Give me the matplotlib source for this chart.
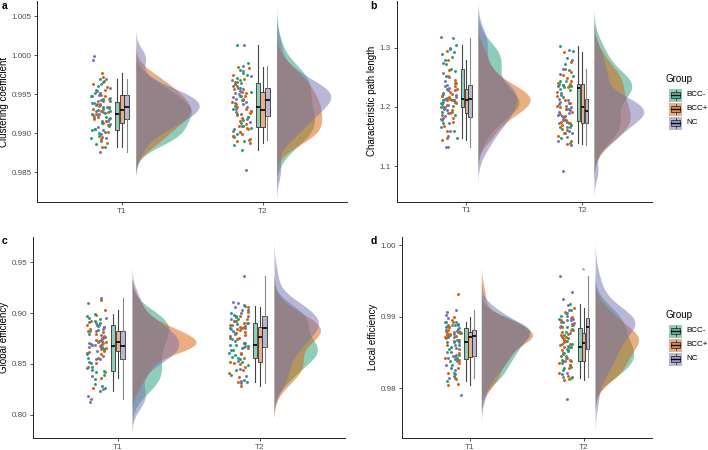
import numpy as np
import matplotlib
matplotlib.use('Agg')
import matplotlib.pyplot as plt
from matplotlib.patches import Rectangle
from matplotlib.colors import to_rgba

plt.rcParams['font.family'] = ['Liberation Sans', 'DejaVu Sans']

# ---------------- data ----------------
groups = ['BCC-', 'BCC+', 'NC']
times = ['T1', 'T2']
colors = ['#1B9E77', '#D95F02', '#7570B3']

# Clustering coefficient
cc_t1_bccm = [0.9883, 0.9886, 0.9890, 0.9894, 0.9897, 0.9900, 0.9902, 0.9904, 0.9905, 0.9909,
              0.9913, 0.9916, 0.9919, 0.9921, 0.9924, 0.9926, 0.9928, 0.9930, 0.9932, 0.9934,
              0.9936, 0.9939, 0.9941, 0.9944, 0.9947, 0.9951, 0.9955, 0.9960, 0.9965, 0.9969]
cc_t1_bccp = [0.9883, 0.9888, 0.9893, 0.9895, 0.9901, 0.9906, 0.9910, 0.9913, 0.9915, 0.9918,
              0.9921, 0.9923, 0.9925, 0.9927, 0.9929, 0.9931, 0.9933, 0.9936, 0.9938, 0.9941,
              0.9944, 0.9947, 0.9949, 0.9952, 0.9955, 0.9959, 0.9963, 0.9967, 0.9972, 0.9977]
cc_t1_nc = [0.9876, 0.9894, 0.9899, 0.9904, 0.9908, 0.9912, 0.9915, 0.9918, 0.9921, 0.9923,
            0.9925, 0.9927, 0.9929, 0.9931, 0.9933, 0.9935, 0.9937, 0.9939, 0.9941, 0.9943,
            0.9945, 0.9947, 0.9949, 0.9951, 0.9954, 0.9958, 0.9963, 0.9969, 0.9994, 0.9999]
cc_t2_bccm = [0.9879, 0.9885, 0.9890, 0.9895, 0.9899, 0.9902, 0.9905, 0.9907, 0.9909, 0.9913,
              0.9917, 0.9921, 0.9925, 0.9928, 0.9931, 0.9935, 0.9939, 0.9943, 0.9948, 0.9953,
              0.9958, 0.9963, 0.9965, 0.9968, 0.9971, 0.9974, 0.9977, 0.9981, 0.9990, 1.0013]
cc_t2_bccp = [0.9888, 0.9890, 0.9893, 0.9896, 0.9899, 0.9902, 0.9905, 0.9907, 0.9909, 0.9912,
              0.9916, 0.9920, 0.9923, 0.9926, 0.9929, 0.9931, 0.9934, 0.9937, 0.9940, 0.9944,
              0.9948, 0.9951, 0.9953, 0.9957, 0.9961, 0.9966, 0.9970, 0.9975, 0.9983, 0.9985]
cc_t2_nc = [0.9853, 0.9891, 0.9897, 0.9903, 0.9909, 0.9914, 0.9918, 0.9921, 0.9924, 0.9927,
            0.9931, 0.9934, 0.9937, 0.9940, 0.9942, 0.9944, 0.9946, 0.9948, 0.9950, 0.9952,
            0.9954, 0.9956, 0.9958, 0.9961, 0.9964, 0.9968, 0.9973, 0.9979, 0.9986, 1.0013]

# Characteristic path length
cpl_t1_bccm = [1.147, 1.160, 1.172, 1.180, 1.186, 1.192, 1.197, 1.200, 1.202, 1.205,
               1.207, 1.209, 1.211, 1.212, 1.213, 1.215, 1.218, 1.222, 1.230, 1.240,
               1.252, 1.261, 1.264, 1.272, 1.280, 1.285, 1.289, 1.292, 1.298, 1.304]
cpl_t1_bccp = [1.144, 1.148, 1.160, 1.168, 1.175, 1.181, 1.186, 1.189, 1.191, 1.195,
               1.199, 1.203, 1.206, 1.209, 1.211, 1.212, 1.214, 1.216, 1.219, 1.222,
               1.226, 1.229, 1.231, 1.235, 1.240, 1.246, 1.253, 1.262, 1.279, 1.295]
cpl_t1_nc = [1.132, 1.133, 1.150, 1.160, 1.166, 1.172, 1.177, 1.182, 1.184, 1.189,
             1.194, 1.199, 1.204, 1.208, 1.211, 1.214, 1.217, 1.220, 1.224, 1.228,
             1.232, 1.235, 1.237, 1.243, 1.250, 1.258, 1.275, 1.299, 1.316, 1.318]
cpl_t2_bccm = [1.139, 1.148, 1.156, 1.162, 1.166, 1.170, 1.173, 1.175, 1.177, 1.185,
               1.196, 1.207, 1.217, 1.224, 1.229, 1.234, 1.235, 1.236, 1.236, 1.237,
               1.237, 1.238, 1.239, 1.244, 1.252, 1.262, 1.272, 1.283, 1.295, 1.303]
cpl_t2_bccp = [1.138, 1.143, 1.150, 1.156, 1.161, 1.166, 1.170, 1.172, 1.174, 1.178,
               1.183, 1.188, 1.192, 1.196, 1.199, 1.201, 1.206, 1.212, 1.219, 1.226,
               1.233, 1.238, 1.240, 1.244, 1.249, 1.254, 1.259, 1.264, 1.276, 1.293]
cpl_t2_nc = [1.092, 1.136, 1.142, 1.149, 1.155, 1.160, 1.166, 1.172, 1.174, 1.177,
             1.180, 1.184, 1.187, 1.190, 1.192, 1.194, 1.196, 1.199, 1.202, 1.205,
             1.208, 1.212, 1.214, 1.220, 1.230, 1.243, 1.255, 1.264, 1.279, 1.297]

# Global efficiency
ge_t1_bccm = [0.8233, 0.8262, 0.8278, 0.8305, 0.8350, 0.8395, 0.8420, 0.8432, 0.8440, 0.8468,
              0.8510, 0.8560, 0.8610, 0.8645, 0.8668, 0.8690, 0.8712, 0.8738, 0.8765, 0.8795,
              0.8830, 0.8876, 0.8885, 0.8900, 0.8912, 0.8925, 0.8940, 0.8955, 0.8970, 0.8988]
ge_t1_bccp = [0.8259, 0.8364, 0.8420, 0.8470, 0.8510, 0.8560, 0.8600, 0.8622, 0.8628, 0.8645,
              0.8660, 0.8675, 0.8690, 0.8700, 0.8708, 0.8716, 0.8728, 0.8740, 0.8755, 0.8770,
              0.8790, 0.8815, 0.8823, 0.8840, 0.8860, 0.8880, 0.8920, 0.8980, 0.9027, 0.9130]
ge_t1_nc = [0.8121, 0.8154, 0.8180, 0.8250, 0.8380, 0.8460, 0.8520, 0.8545, 0.8550, 0.8575,
            0.8600, 0.8625, 0.8645, 0.8662, 0.8675, 0.8683, 0.8695, 0.8710, 0.8730, 0.8755,
            0.8785, 0.8820, 0.8826, 0.8845, 0.8865, 0.8880, 0.8900, 0.8950, 0.9095, 0.9152]
ge_t2_bccm = [0.8325, 0.8345, 0.8390, 0.8440, 0.8490, 0.8520, 0.8545, 0.8558, 0.8565, 0.8585,
              0.8610, 0.8635, 0.8655, 0.8672, 0.8682, 0.8690, 0.8705, 0.8730, 0.8760, 0.8800,
              0.8850, 0.8893, 0.8900, 0.8925, 0.8945, 0.8965, 0.8985, 0.9005, 0.9030, 0.9070]
ge_t2_bccp = [0.8279, 0.8320, 0.8370, 0.8410, 0.8440, 0.8470, 0.8500, 0.8512, 0.8522, 0.8560,
              0.8610, 0.8660, 0.8710, 0.8745, 0.8760, 0.8770, 0.8785, 0.8800, 0.8815, 0.8830,
              0.8848, 0.8860, 0.8866, 0.8880, 0.8900, 0.8920, 0.8945, 0.8975, 0.9010, 0.9060]
ge_t2_nc = [0.8310, 0.8330, 0.8380, 0.8450, 0.8530, 0.8600, 0.8640, 0.8662, 0.8672, 0.8710,
            0.8750, 0.8790, 0.8820, 0.8840, 0.8850, 0.8856, 0.8870, 0.8885, 0.8900, 0.8920,
            0.8945, 0.8968, 0.8975, 0.9000, 0.9030, 0.9060, 0.9080, 0.9095, 0.9110, 0.9365]

# Local efficiency
le_t1_bccm = [0.9810, 0.9813, 0.9817, 0.9822, 0.9828, 0.9833, 0.9838, 0.9841, 0.9843, 0.9847,
              0.9851, 0.9855, 0.9858, 0.9861, 0.9864, 0.9866, 0.9868, 0.9871, 0.9874, 0.9877,
              0.9880, 0.9883, 0.9885, 0.9886, 0.9887, 0.9888, 0.9889, 0.9890, 0.9892, 0.9893]
le_t1_bccp = [0.9804, 0.9806, 0.9815, 0.9822, 0.9829, 0.9835, 0.9840, 0.9843, 0.9845, 0.9850,
              0.9855, 0.9860, 0.9864, 0.9868, 0.9870, 0.9872, 0.9873, 0.9874, 0.9875, 0.9876,
              0.9877, 0.9878, 0.9879, 0.9882, 0.9885, 0.9888, 0.9892, 0.9896, 0.9900, 0.9932]
le_t1_nc = [0.9791, 0.9814, 0.9820, 0.9826, 0.9833, 0.9838, 0.9842, 0.9845, 0.9847, 0.9851,
            0.9856, 0.9860, 0.9864, 0.9868, 0.9872, 0.9874, 0.9875, 0.9876, 0.9877, 0.9878,
            0.9879, 0.9880, 0.9881, 0.9884, 0.9888, 0.9893, 0.9898, 0.9902, 0.9906, 0.9909]
le_t2_bccm = [0.9814, 0.9816, 0.9820, 0.9825, 0.9829, 0.9833, 0.9836, 0.9838, 0.9839, 0.9842,
              0.9845, 0.9849, 0.9852, 0.9855, 0.9857, 0.9859, 0.9862, 0.9866, 0.9870, 0.9875,
              0.9879, 0.9883, 0.9885, 0.9889, 0.9893, 0.9897, 0.9901, 0.9905, 0.9910, 0.9917]
le_t2_bccp = [0.9812, 0.9813, 0.9817, 0.9822, 0.9828, 0.9832, 0.9836, 0.9838, 0.9839, 0.9843,
              0.9848, 0.9853, 0.9857, 0.9860, 0.9862, 0.9864, 0.9866, 0.9868, 0.9870, 0.9872,
              0.9874, 0.9876, 0.9878, 0.9881, 0.9885, 0.9890, 0.9895, 0.9900, 0.9906, 0.9912]
le_t2_nc = [0.9785, 0.9816, 0.9822, 0.9830, 0.9838, 0.9845, 0.9850, 0.9854, 0.9857, 0.9862,
            0.9867, 0.9872, 0.9877, 0.9881, 0.9885, 0.9887, 0.9889, 0.9891, 0.9893, 0.9895,
            0.9896, 0.9897, 0.9898, 0.9901, 0.9905, 0.9910, 0.9916, 0.9924, 0.9935, 0.9957]

cc_ticks = [0.985, 0.990, 0.995, 1.000, 1.005]
cc_ticklabels = ['0.985', '0.990', '0.995', '1.000', '1.005']
cpl_ticks = [1.1, 1.2, 1.3]
cpl_ticklabels = ['1.1', '1.2', '1.3']
ge_ticks = [0.80, 0.85, 0.90, 0.95]
ge_ticklabels = ['0.80', '0.85', '0.90', '0.95']
le_ticks = [0.98, 0.99, 1.00]
le_ticklabels = ['0.98', '0.99', '1.00']

panels = [
    dict(letter='a', ylabel='Clustering coefficient',
         data=[[cc_t1_bccm, cc_t1_bccp, cc_t1_nc], [cc_t2_bccm, cc_t2_bccp, cc_t2_nc]],
         ticks=cc_ticks, ticklabels=cc_ticklabels, ylim=(0.98116, 1.00692),
         px=(37.3, 347, 1, 202.3), legend=None, letter_px=(2, 6)),
    dict(letter='b', ylabel='Characteristic path length',
         data=[[cpl_t1_bccm, cpl_t1_bccp, cpl_t1_nc], [cpl_t2_bccm, cpl_t2_bccp, cpl_t2_nc]],
         ticks=cpl_ticks, ticklabels=cpl_ticklabels, ylim=(1.0397, 1.379),
         px=(396.7, 652, 1, 201.7), legend=79, letter_px=(370, 6)),
    dict(letter='c', ylabel='Global efficiency',
         data=[[ge_t1_bccm, ge_t1_bccp, ge_t1_nc], [ge_t2_bccm, ge_t2_bccp, ge_t2_nc]],
         ticks=ge_ticks, ticklabels=ge_ticklabels, ylim=(0.7771, 0.9752),
         px=(32.7, 345, 236.7, 438), legend=None, letter_px=(2, 241)),
    dict(letter='d', ylabel='Local efficiency',
         data=[[le_t1_bccm, le_t1_bccp, le_t1_nc], [le_t2_bccm, le_t2_bccp, le_t2_nc]],
         ticks=le_ticks, ticklabels=le_ticklabels, ylim=(0.97307, 1.00116),
         px=(401.7, 652, 236.7, 438), legend=315, letter_px=(371, 241)),
]

# ---------------- helpers ----------------
W, H = 708, 450


def kde(vals, adjust=1.15, cut=2.7):
    v = np.asarray(vals, dtype=float)
    n = len(v)
    sd = v.std(ddof=1)
    q75, q25 = np.percentile(v, [75, 25])
    bw = adjust * 0.9 * min(sd, (q75 - q25) / 1.34) * n ** (-0.2)
    y = np.linspace(v.min() - cut * bw, v.max() + cut * bw, 512)
    d = np.exp(-0.5 * ((y[:, None] - v[None, :]) / bw) ** 2).sum(1) / (n * bw * np.sqrt(2 * np.pi))
    return y, d


def jitter_u(k):
    # deterministic hash in [0, 1) used only for horizontal jitter positions
    return (np.sin(k * 12.9898 + 78.233) * 43758.5453) % 1.0


fig = plt.figure(figsize=(W / 100, H / 100), dpi=100)

TXT = '#4D4D4D'
dodge = 0.034
box_w = 0.031
pt_center = -0.15
pt_half = 0.07
viol_off = 0.10
viol_max = 0.45

for pi, p in enumerate(panels):
    l, r, t, b = p['px']
    ax = fig.add_axes([l / W, 1 - b / H, (r - l) / W, (b - t) / H])
    ax.set_xlim(0.4, 2.6)
    ax.set_ylim(*p['ylim'])

    # densities (area scaled across the panel)
    dens = []
    for ti in range(2):
        for gi in range(3):
            dens.append((ti, gi) + kde(p['data'][ti][gi]))
    dmax = max(d.max() for _, _, _, d in dens)
    for ti, gi, yy, dd in dens:
        x0 = ti + 1 + viol_off
        ax.fill_betweenx(yy, x0, x0 + dd / dmax * viol_max, color=colors[gi],
                         alpha=0.5, linewidth=0, zorder=1)

    for ti in range(2):
        xc = ti + 1
        # points (interleaved)
        for i in range(30):
            for gi in range(3):
                vals = p['data'][ti][gi]
                if i >= len(vals):
                    continue
                k = pi * 1000 + ti * 200 + i * 3 + gi + 1
                u = jitter_u(k)
                ax.scatter(xc + pt_center + (u - 0.5) * 2 * pt_half, vals[i], s=4.5,
                           color=colors[gi], linewidths=0, zorder=3)
        # boxes
        for gi in range(3):
            bp = ax.boxplot([p['data'][ti][gi]], positions=[xc + (gi - 1) * dodge],
                            widths=box_w, patch_artist=True, showfliers=False,
                            showcaps=False, whis=1.5, manage_ticks=False, zorder=4)
            for patch in bp['boxes']:
                patch.set_facecolor(to_rgba(colors[gi], 0.5))
                patch.set_edgecolor('#333333')
                patch.set_linewidth(0.6)
            for w in bp['whiskers']:
                w.set_color('#444444' if gi < 2 else '#888888')
                w.set_linewidth(0.8)
            for m in bp['medians']:
                m.set_color('black')
                m.set_linewidth(1.2)

    ax.set_xticks([1, 2])
    ax.set_xticklabels(times)
    ax.set_yticks(p['ticks'])
    ax.set_yticklabels(p['ticklabels'])
    ax.tick_params(axis='both', labelsize=5.8, labelcolor=TXT, color='#333333',
                   length=2.5, width=0.6, pad=1.5)
    ax.set_ylabel(p['ylabel'], fontsize=7, color='black', labelpad=2)
    for s in ['top', 'right']:
        ax.spines[s].set_visible(False)
    for s in ['left', 'bottom']:
        ax.spines[s].set_linewidth(0.7)
        ax.spines[s].set_color('#222222')
    ax.patch.set_visible(False)

    if p['letter'] == 'd':
        ax.text(2.0, 0.99635, '*', ha='center', va='center', fontsize=6, color='#666666', zorder=5)

# overlay for letters and legends (pixel coordinates)
ov = fig.add_axes([0, 0, 1, 1])
ov.set_xlim(0, W)
ov.set_ylim(H, 0)
ov.axis('off')
ov.patch.set_visible(False)

for p in panels:
    lx, ly = p['letter_px']
    ov.text(lx, ly, p['letter'], fontsize=7.5, fontweight='bold', ha='left', va='center')
    if p['legend'] is not None:
        ty = p['legend']
        ov.text(666, ty, 'Group', fontsize=7, ha='left', va='center')
        for gi, g in enumerate(groups):
            cy = ty + 16 + gi * 14
            kx0, kx1 = 669, 682
            ky0, ky1 = cy - 6.5, cy + 6.5
            ov.add_patch(Rectangle((kx0, ky0), kx1 - kx0, ky1 - ky0,
                                   facecolor=to_rgba(colors[gi], 0.5), edgecolor='none'))
            bx0 = kx0 + 0.125 * (kx1 - kx0)
            bx1 = kx0 + 0.875 * (kx1 - kx0)
            by0 = ky0 + 0.25 * (ky1 - ky0)
            by1 = ky0 + 0.75 * (ky1 - ky0)
            ov.add_patch(Rectangle((bx0, by0), bx1 - bx0, by1 - by0,
                                   facecolor=to_rgba(colors[gi], 0.5), edgecolor='#333333',
                                   linewidth=0.6))
            xm = (kx0 + kx1) / 2
            ov.plot([xm, xm], [ky0 + 0.1 * 13, by0], color='#333333', lw=0.6)
            ov.plot([xm, xm], [by1, ky1 - 0.1 * 13], color='#333333', lw=0.6)
            ov.plot([bx0, bx1], [cy, cy], color='black', lw=0.9)
            ov.text(686, cy, g, fontsize=5.8, ha='left', va='center', color='black')

fig.savefig('out.png', dpi=100)
